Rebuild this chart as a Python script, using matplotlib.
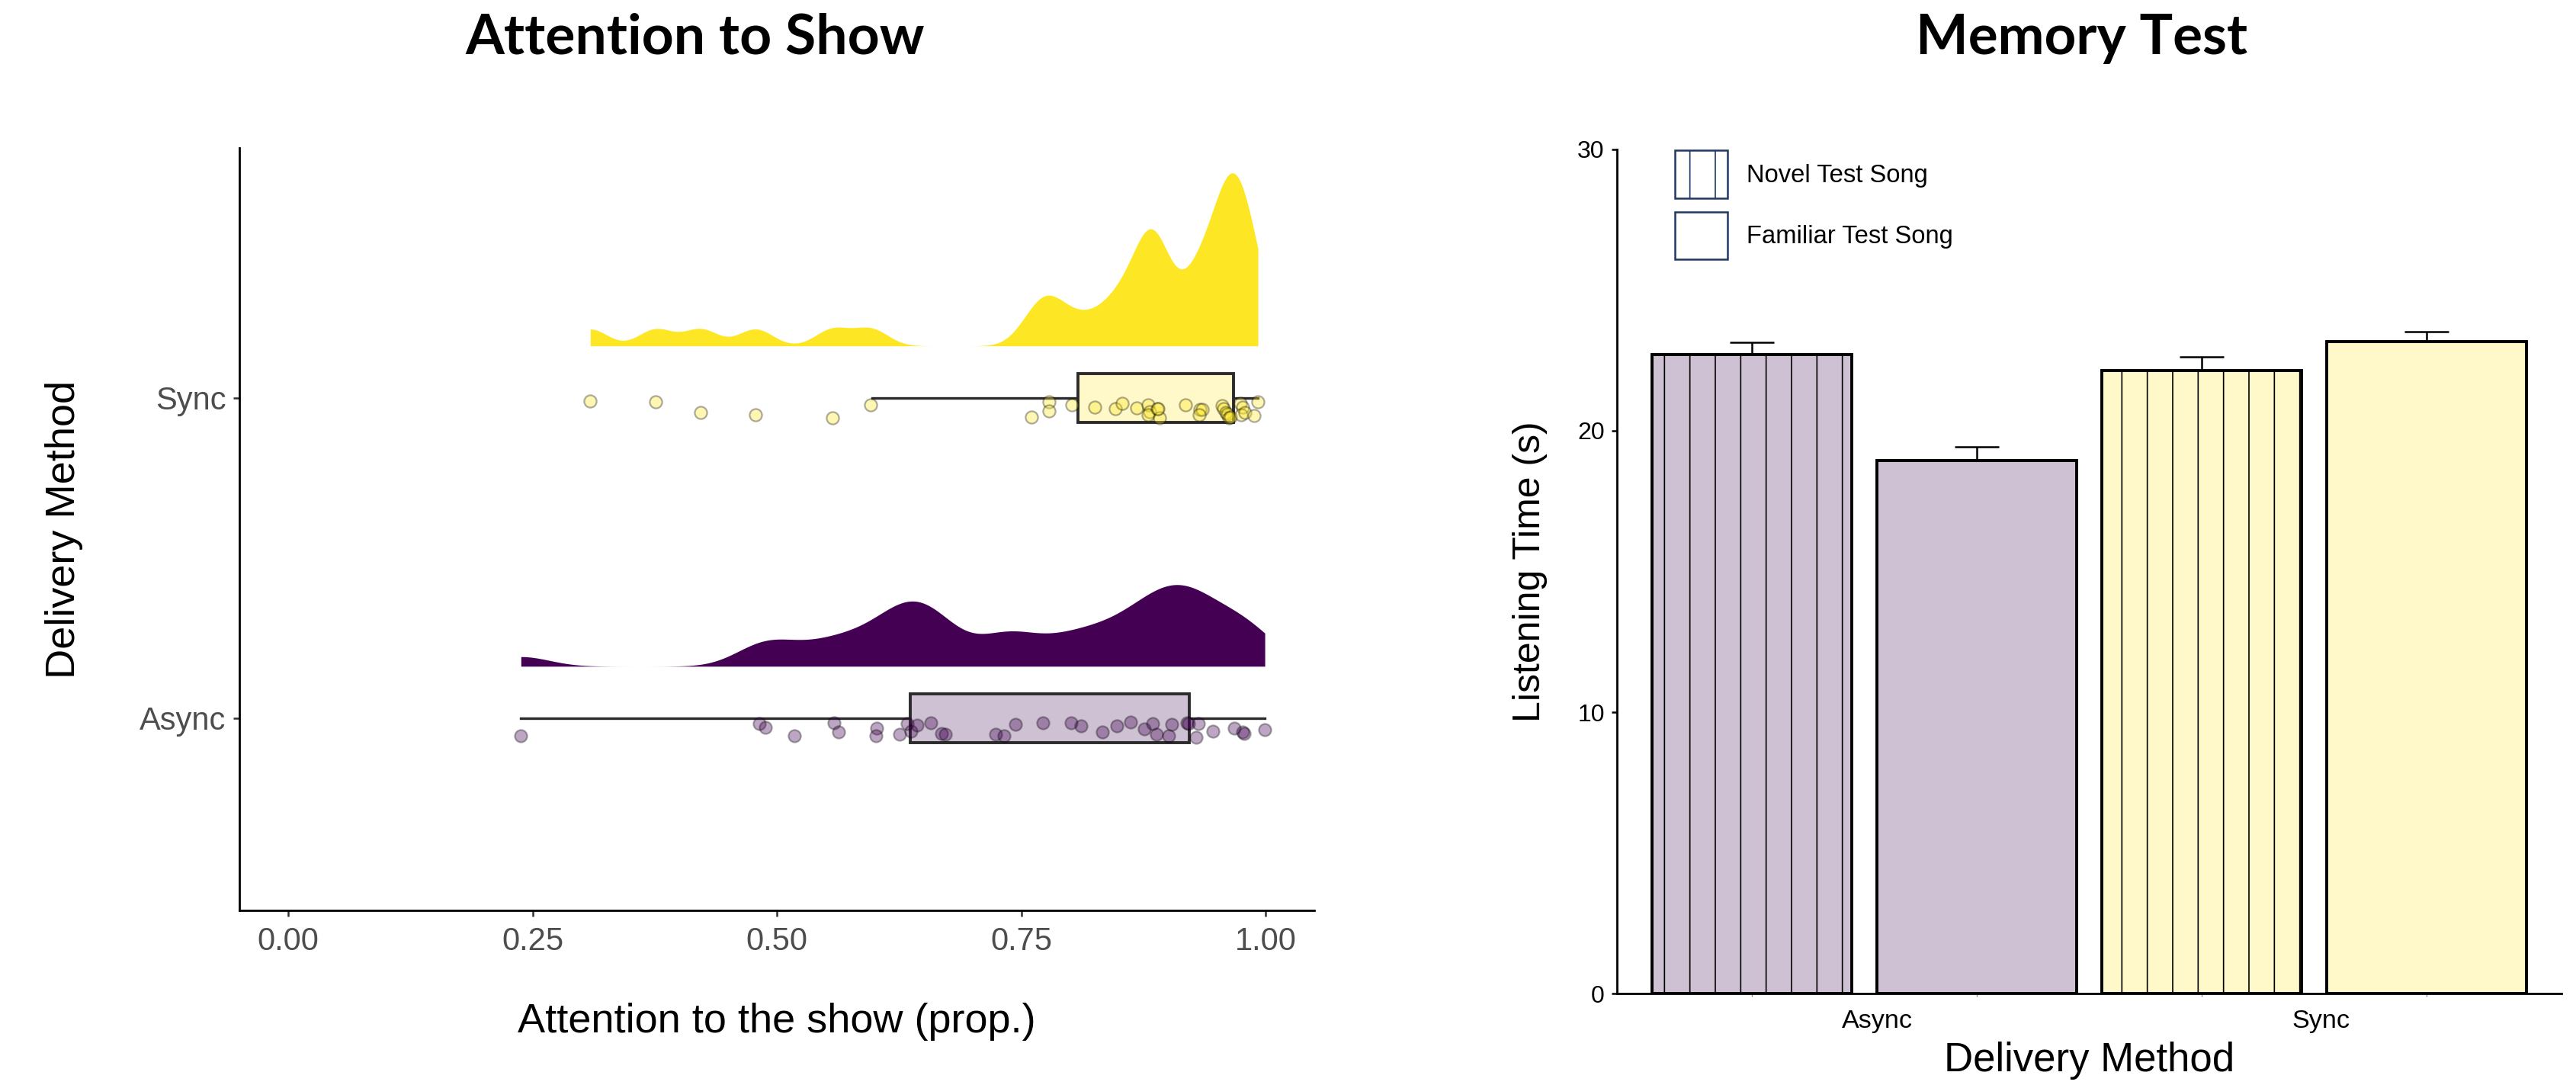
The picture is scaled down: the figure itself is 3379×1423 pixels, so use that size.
import numpy as np
import matplotlib
matplotlib.use("Agg")
import matplotlib.pyplot as plt
from matplotlib.patches import Patch

plt.rcParams['font.family'] = ['Liberation Sans', 'DejaVu Sans']
plt.rcParams['hatch.linewidth'] = 0.6

# ---- left panel data: attention to the show (proportion)
sync_vals = [0.309, 0.376, 0.422, 0.478, 0.557, 0.596, 0.760, 0.778, 0.778, 0.802,
             0.825, 0.846, 0.853, 0.868, 0.880, 0.881, 0.880, 0.889, 0.891, 0.890,
             0.918, 0.933, 0.935, 0.932, 0.955, 0.957, 0.959, 0.961, 0.962, 0.964,
             0.974, 0.976, 0.975, 0.979, 0.988, 0.992]
sync_jit = [0.010, 0.013, 0.046, 0.052, 0.063, 0.021, 0.060, 0.013, 0.042, 0.023,
            0.029, 0.033, 0.017, 0.031, 0.022, 0.043, 0.054, 0.034, 0.062, 0.033,
            0.022, 0.037, 0.037, 0.054, 0.025, 0.033, 0.045, 0.051, 0.062, 0.059,
            0.017, 0.029, 0.053, 0.045, 0.056, 0.013]
async_vals = [0.238, 0.482, 0.488, 0.518, 0.558, 0.563, 0.602, 0.601, 0.625, 0.633,
              0.637, 0.643, 0.657, 0.668, 0.672, 0.724, 0.732, 0.744, 0.772, 0.801,
              0.811, 0.833, 0.848, 0.862, 0.876, 0.884, 0.888, 0.901, 0.904, 0.919,
              0.921, 0.931, 0.929, 0.946, 0.968, 0.976, 0.978, 0.999]
async_jit = [0.055, 0.018, 0.029, 0.055, 0.014, 0.043, 0.030, 0.055, 0.051, 0.018,
             0.041, 0.021, 0.015, 0.047, 0.051, 0.049, 0.055, 0.019, 0.014, 0.015,
             0.025, 0.044, 0.025, 0.011, 0.033, 0.017, 0.051, 0.055, 0.019, 0.015,
             0.018, 0.018, 0.060, 0.041, 0.031, 0.044, 0.048, 0.037]
# box stats: whislo, q1, median, q3, whishi
sync_box = [0.597, 0.808, 0.905, 0.967, 0.992]
async_box = [0.238, 0.636, 0.811, 0.922, 0.999]

# ---- right panel data: listening time (s)
groups = ['Async', 'Sync']
novel_mean = [22.70, 22.15]
novel_se = [0.45, 0.47]
familiar_mean = [18.95, 23.16]
familiar_se = [0.48, 0.37]

purple = '#440154'
yellow = '#FDE725'
purple_light = '#CEC1D3'
yellow_light = '#FFF8C9'


def flat_density(vals, adjust):
    v = np.asarray(vals)
    n = len(v)
    q75, q25 = np.percentile(v, [75, 25])
    bw = 0.9 * min(v.std(ddof=1), (q75 - q25) / 1.34) * n ** -0.2 * adjust
    grid = np.linspace(v.min(), v.max(), 600)
    d = np.exp(-0.5 * ((grid[:, None] - v[None, :]) / bw) ** 2).sum(1)
    return grid, d / (n * bw * np.sqrt(2 * np.pi))


fig = plt.figure(figsize=(16.9, 7.115), dpi=200)

# ================= left: raincloud =================
ax = fig.add_axes([0.0929, 0.1609, 0.4173, 0.7028])
dens = [flat_density(async_vals, 0.38), flat_density(sync_vals, 0.33)]
dmax = max(d.max() for _, d in dens)
for pos, (g, d), col in zip([1, 2], dens, [purple, yellow]):
    base = pos + 0.162
    ax.fill_between(g, base, base + d / dmax * 0.54, color=col, lw=0, zorder=2)

for pos, vals, jit, col in [(1, async_vals, async_jit, purple), (2, sync_vals, sync_jit, yellow)]:
    ax.scatter(vals, pos - np.asarray(jit), s=34, facecolor=matplotlib.colors.to_rgba(col, 0.35),
               edgecolor=(0, 0, 0, 0.32), linewidth=0.8, zorder=4)

stats = []
for st in [async_box, sync_box]:
    stats.append(dict(whislo=st[0], q1=st[1], med=st[2], q3=st[3], whishi=st[4], fliers=[]))
bp = ax.bxp(stats, positions=[1, 2], vert=False, widths=0.152, patch_artist=True,
            showcaps=False, manage_ticks=False,
            boxprops=dict(linewidth=1.4, edgecolor='#2b2b2b'),
            whiskerprops=dict(linewidth=1.2, color='#2b2b2b'),
            medianprops=dict(linewidth=2.6, color='#2b2b2b'))
for b, c in zip(bp['boxes'], [purple_light, yellow_light]):
    b.set_facecolor(c)
    b.set_zorder(3)

ax.set_xlim(-0.05, 1.05)
ax.set_ylim(0.40, 2.78)
ax.set_xticks([0, 0.25, 0.5, 0.75, 1.0])
ax.set_xticklabels(['0.00', '0.25', '0.50', '0.75', '1.00'])
ax.set_yticks([1, 2])
ax.set_yticklabels(['Async', 'Sync'])
ax.tick_params(labelsize=15, labelcolor='#4D4D4D', color='#333333', length=3, width=0.9)
ax.tick_params(axis='x', pad=4.5)
ax.tick_params(axis='y', pad=3.2)
for s in ['top', 'right']:
    ax.spines[s].set_visible(False)
for s in ['left', 'bottom']:
    ax.spines[s].set_linewidth(1.0)
ax.set_xlabel('Attention to the show (prop.)', fontsize=19.5, va='center')
ax.xaxis.set_label_coords(0.5, -0.146)
ax.set_ylabel('Delivery Method', fontsize=19.5, va='center')
ax.yaxis.set_label_coords(-0.163, 0.5)

# ================= right: bar chart =================
ax2 = fig.add_axes([0.6274, 0.0843, 0.3667, 0.7780])
x = np.arange(4)
means = [novel_mean[0], familiar_mean[0], novel_mean[1], familiar_mean[1]]
ses = [novel_se[0], familiar_se[0], novel_se[1], familiar_se[1]]
fills = [purple_light, purple_light, yellow_light, yellow_light]
hatches = ['|', '', '|', '']
bars = ax2.bar(x, means, width=0.8875, color=fills, edgecolor='black', linewidth=1.4, zorder=2)
for b, h in zip(bars, hatches):
    b.set_hatch(h)
ax2.errorbar(x, means, yerr=[np.zeros(4), ses], fmt='none', ecolor='black',
             elinewidth=0.9, capsize=10.4, capthick=0.9, zorder=1)

ax2.set_xlim(-0.6, 3.6)
ax2.set_ylim(0, 30)
ax2.set_yticks([0, 10, 20, 30])
ax2.tick_params(axis='y', labelsize=11.5, length=2.5, width=0.9, pad=3.2)
ax2.set_xticks(x, minor=True)
ax2.set_xticks([0.56, 2.53])
ax2.set_xticklabels(groups)
ax2.tick_params(axis='x', which='major', length=0, labelsize=12.3, pad=7.5)
ax2.tick_params(axis='x', which='minor', length=1.5, width=0.5, color='#888888')
for s in ['top', 'right']:
    ax2.spines[s].set_visible(False)
for s in ['left', 'bottom']:
    ax2.spines[s].set_linewidth(1.0)
ax2.set_xlabel('Delivery Method', fontsize=19, va='center')
ax2.xaxis.set_label_coords(0.5, -0.0795)
ax2.set_ylabel('Listening Time (s)', fontsize=18, va='center')
ax2.yaxis.set_label_coords(-0.0913, 0.5)

handles = [Patch(facecolor='white', edgecolor='#1F3864', hatch='|', linewidth=0.9),
           Patch(facecolor='white', edgecolor='#1F3864', linewidth=0.9)]
ax2.legend(handles, ['Novel Test Song', 'Familiar Test Song'], loc='upper left',
           bbox_to_anchor=(2196.7 / 3380, 1 - 197.4 / 1423), bbox_transform=fig.transFigure,
           frameon=False, fontsize=11.8, handlelength=2.1, handleheight=2.55,
           labelspacing=0.55, handletextpad=0.78, borderpad=0, borderaxespad=0)

# ---- titles
fig.text(912 / 3380, 1 - 50 / 1423, 'Attention to Show', family='Lato', weight='bold',
         fontsize=26.4, ha='center', va='center')
fig.text(2731 / 3380, 1 - 50 / 1423, 'Memory Test', family='Lato', weight='bold',
         fontsize=26.2, ha='center', va='center')

fig.savefig('out.png', dpi=200)
